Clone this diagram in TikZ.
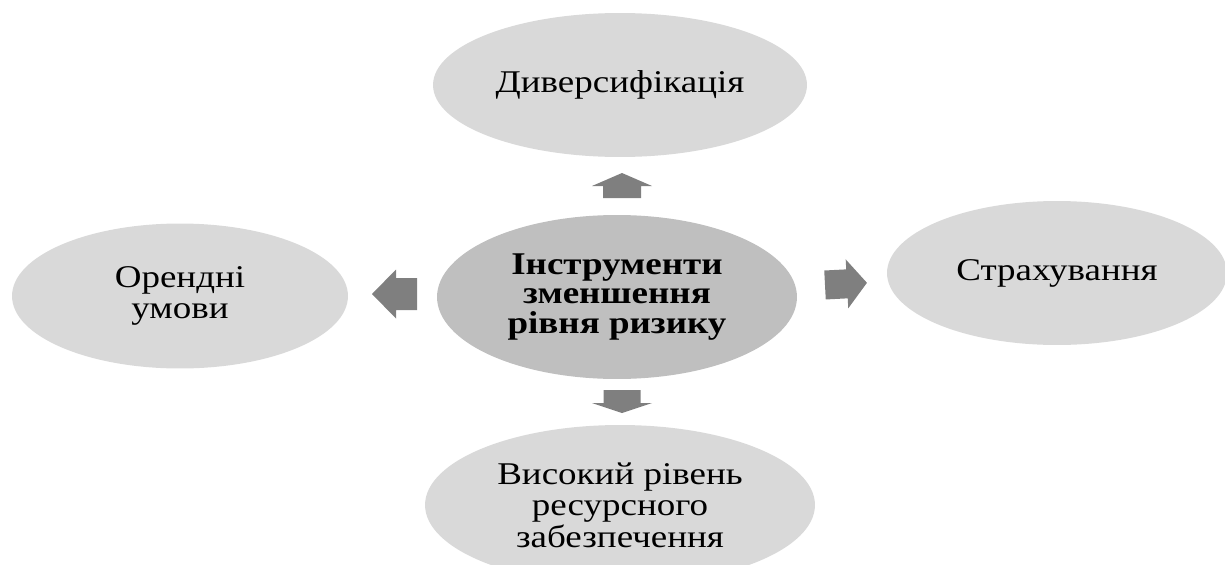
\documentclass[tikz,border=0pt]{standalone}
\usepackage{fontspec}
\setmainfont[FakeStretch=1.17]{Liberation Serif}
\usetikzlibrary{shapes,positioning}
\definecolor{ovalgray}{HTML}{D9D9D9}
\definecolor{coregray}{HTML}{BFBFBF}
\definecolor{arrowgray}{HTML}{7F7F7F}

\begin{document}
\begin{tikzpicture}[x=0.02cm, y=-0.02cm,
    oval/.style={ellipse, fill=ovalgray, inner sep=0pt, align=center,
        font=\fontsize{18}{18}\selectfont},
    coreoval/.style={oval, fill=coregray, font=\fontsize{18}{17}\selectfont\bfseries},
    % block arrow: length, shaft half width, head half width, head length
    pics/blockarrow/.style n args={4}{code={
        \fill[arrowgray] (0,-#2) -- (#1-#4,-#2) -- (#1-#4,-#3) -- (#1,0)
            -- (#1-#4,#3) -- (#1-#4,#2) -- (0,#2) -- cycle;}}]
    \useasboundingbox (0,0) rectangle (1225,565);

    % Centre
    \node[coreoval, minimum width=7.2cm, minimum height=3.28cm] (core) at (617,297)
        {Інструменти\\зменшення\\рівня ризику};

    % Outer ovals
    \node[oval, minimum width=7.48cm, minimum height=2.88cm] (div) at (620,85) {Диверсифікація};
    \node[oval, minimum width=6.72cm, minimum height=2.9cm] (rent) at (180,296) {Орендні\\умови};
    \node[oval, minimum width=6.8cm, minimum height=2.88cm] (ins) at (1057,273) {Страхування};
    \node[oval, minimum width=7.8cm, minimum height=3.2cm] (res) at (620,505)
        {Високий рівень\\ресурсного\\забезпечення};

    % Arrows
    \pic[rotate=90] (toDiv) at (622,198) {blockarrow={25}{19}{30}{13}};
    \pic[rotate=-90] (toRes) at (622,390) {blockarrow={23}{18.5}{30}{10}};
    \pic[rotate=180] (toRent) at (417,294) {blockarrow={45}{16}{24.5}{24}};
    \pic[rotate=3] (toIns) at (825,285) {blockarrow={42}{14.5}{24.5}{20}};
\end{tikzpicture}
\end{document}
